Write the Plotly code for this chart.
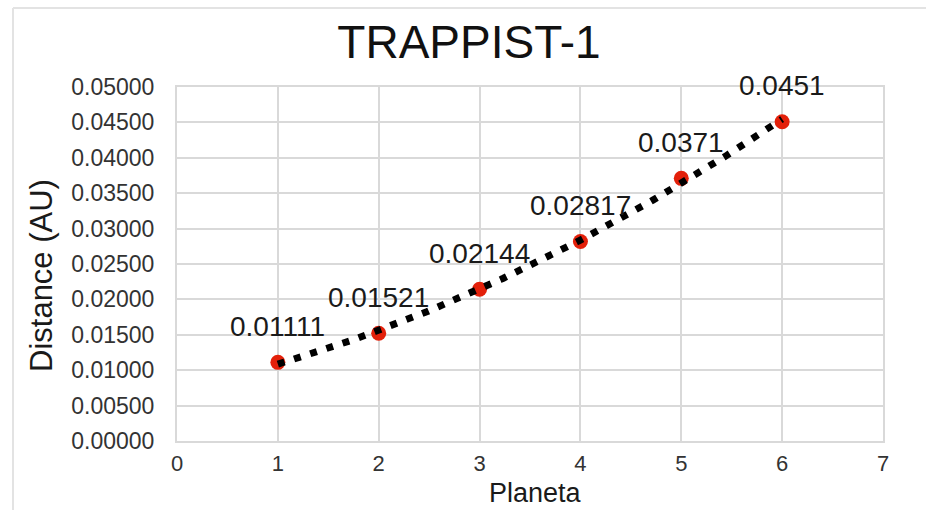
import numpy as np
import plotly.graph_objects as go

planets = [1, 2, 3, 4, 5, 6]
distances = [0.01111, 0.01521, 0.02144, 0.02817, 0.0371, 0.0451]
labels = ["0.01111", "0.01521", "0.02144", "0.02817", "0.0371", "0.0451"]
y_ticks = [0, 0.005, 0.01, 0.015, 0.02, 0.025, 0.03, 0.035, 0.04, 0.045, 0.05]
y_tick_text = ["%.5f" % v for v in y_ticks]
x_ticks = [0, 1, 2, 3, 4, 5, 6, 7]

# polynomial (order 2) trendline fitted to the data
coef = np.polyfit(planets, distances, 2)
tx = np.linspace(min(planets), max(planets), 200)
ty = np.polyval(coef, tx)

W, H = 926, 510
L, R, T, B = 177, 43, 87, 69
pw, ph = W - L - R, H - T - B

def px_x(p):
    return (p - L) / pw

def px_y(p):
    return (H - B - p) / ph

FONT = "Liberation Sans, Arial, sans-serif"
GRID = "#d9d9d9"

fig = go.Figure()
fig.add_trace(go.Scatter(
    x=planets, y=distances, mode="markers",
    marker=dict(color="#e3200a", size=15, line=dict(width=0)),
    showlegend=False, hoverinfo="x+y"))
fig.add_trace(go.Scatter(
    x=tx, y=ty, mode="lines",
    line=dict(color="black", width=7, dash="7px,10px"),
    showlegend=False, hoverinfo="skip"))

for xv, yv, lab in zip(planets, distances, labels):
    fig.add_annotation(x=xv, y=yv, text=lab, showarrow=False, yshift=36,
                       xanchor="center", yanchor="middle",
                       font=dict(family=FONT, size=28, color="#1a1a1a"))

# axis titles
fig.add_annotation(xref="paper", yref="paper", x=px_x(41), y=px_y(276),
                   xanchor="center", yanchor="middle",
                   text="Distance (AU)", textangle=-90, showarrow=False,
                   font=dict(family=FONT, size=31, color="#1a1a1a"))
fig.add_annotation(xref="paper", yref="paper", x=px_x(535), y=px_y(493),
                   xanchor="center", yanchor="middle", borderpad=0,
                   text="Planeta", showarrow=False,
                   font=dict(family=FONT, size=27, color="#1a1a1a"))

# outer chart frame (left and top)
fig.add_shape(type="line", xref="paper", yref="paper",
              x0=px_x(13), x1=px_x(13), y0=px_y(8), y1=px_y(520),
              line=dict(color="#e3e3e3", width=2))
fig.add_shape(type="line", xref="paper", yref="paper",
              x0=px_x(13), x1=px_x(930), y0=px_y(8), y1=px_y(8),
              line=dict(color="#e3e3e3", width=2))

fig.update_layout(
    width=W, height=H,
    margin=dict(l=L, r=R, t=T, b=B),
    paper_bgcolor="white", plot_bgcolor="white",
    title=dict(text="TRAPPIST-1", x=469 / W, xanchor="center",
               y=1 - 42 / H, yanchor="middle",
               font=dict(family=FONT, size=46, color="#111111")),
    font=dict(family=FONT, color="#333333"),
)
fig.update_xaxes(range=[0, 7], tickvals=x_ticks, ticktext=[str(v) for v in x_ticks],
                 showgrid=True, gridcolor=GRID, gridwidth=2,
                 showline=True, linecolor=GRID, linewidth=2, mirror=True,
                 zeroline=False, ticks="", ticklabelstandoff=2,
                 tickfont=dict(family=FONT, size=22, color="#333333"))
fig.update_yaxes(range=[0, 0.05], tickvals=y_ticks, ticktext=y_tick_text,
                 showgrid=True, gridcolor=GRID, gridwidth=2,
                 showline=True, linecolor=GRID, linewidth=2, mirror=True,
                 zeroline=False, ticks="", ticklabelstandoff=16,
                 tickfont=dict(family=FONT, size=23, color="#333333"))

fig.write_html("out.html")
